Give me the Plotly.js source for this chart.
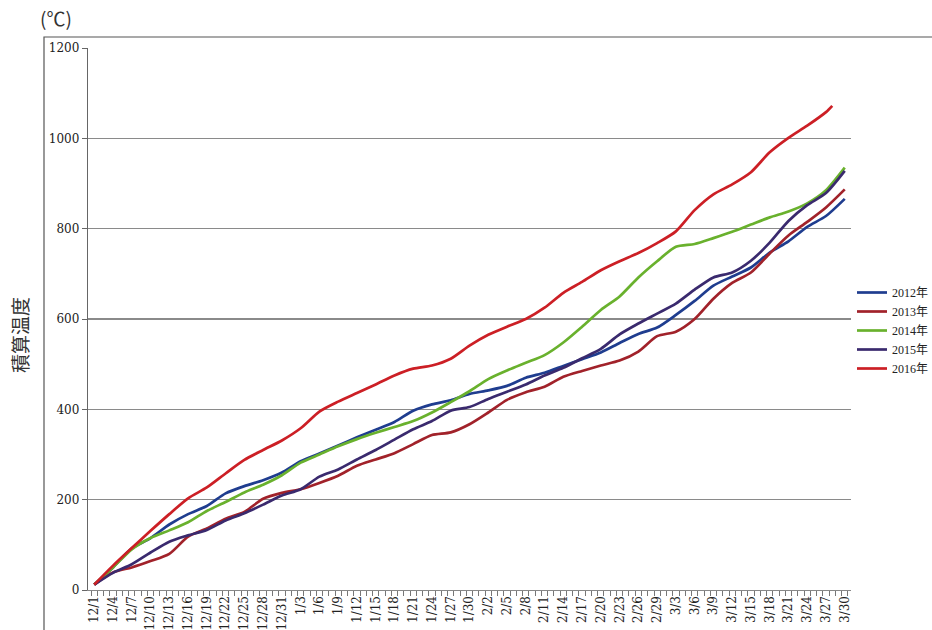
<!DOCTYPE html>
<html>
<head>
<meta charset="utf-8">
<script src="https://cdn.plot.ly/plotly-3.0.1.min.js"></script>
<style>
html,body{margin:0;padding:0;background:#fff;}
#chart{width:932px;height:630px;}
</style>
</head>
<body>
<div id="chart"></div>
<script>
// Category axis: every day from 12/1 to 3/30 (leap-year February)
const monthLengths = [[12, 31], [1, 31], [2, 29], [3, 30]];
const allDates = [];
monthLengths.forEach(function (m) { for (let d = 1; d <= m[1]; d++) allDates.push(m[0] + '/' + d); });

// Dates at which values were read (every 3 days)
const sampleDates = ['12/1','12/4','12/7','12/10','12/13','12/16','12/19','12/22','12/25','12/28','12/31',
  '1/3','1/6','1/9','1/12','1/15','1/18','1/21','1/24','1/27','1/30',
  '2/2','2/5','2/8','2/11','2/14','2/17','2/20','2/23','2/26','2/29',
  '3/3','3/6','3/9','3/12','3/15','3/18','3/21','3/24','3/27','3/30'];
const sampleDates2016 = sampleDates.slice(0, 40).concat(['3/28']);

const seriesNames = ['2012年', '2013年', '2014年', '2015年', '2016年'];

const v2012 = [12, 50, 92, 115, 145, 168, 186, 214, 230, 243, 260,
  285, 302, 320, 338, 355, 372, 397, 411, 420, 434,
  442, 452, 470, 481, 496, 511, 526, 547, 567, 581,
  609, 640, 674, 694, 714, 747, 772, 804, 828, 866];
const v2013 = [12, 39, 50, 64, 80, 118, 136, 158, 173, 202, 215,
  223, 237, 253, 275, 289, 303, 323, 343, 349, 367,
  393, 421, 438, 450, 472, 485, 497, 508, 528, 562,
  572, 600, 645, 680, 703, 745, 785, 815, 847, 887];
const v2014 = [12, 50, 90, 115, 132, 150, 175, 195, 216, 233, 254,
  282, 300, 318, 334, 348, 361, 374, 393, 416, 440,
  467, 486, 503, 520, 548, 583, 620, 650, 692, 728,
  760, 766, 779, 793, 809, 825, 838, 856, 885, 935];
const v2015 = [12, 38, 57, 83, 107, 121, 133, 154, 170, 189, 209,
  223, 251, 267, 289, 310, 333, 356, 374, 397, 405,
  423, 439, 455, 475, 492, 513, 534, 566, 590, 612,
  634, 665, 692, 703, 729, 769, 817, 852, 879, 928];
const v2016 = [12, 54, 93, 131, 168, 203, 227, 258, 288, 310, 331,
  358, 395, 417, 436, 455, 475, 490, 497, 512, 541,
  565, 583, 600, 625, 658, 682, 708, 728, 746, 768,
  794, 841, 876, 898, 925, 969, 1001, 1028, 1058, 1072];

const colors = ['#1f3d8f', '#a1222a', '#69b12d', '#3a2a6e', '#cc1f25'];
const xs = [sampleDates, sampleDates, sampleDates, sampleDates, sampleDates2016];
const ys = [v2012, v2013, v2014, v2015, v2016];

const traces = ys.map(function (y, i) {
  return {
    type: 'scatter', mode: 'lines', name: seriesNames[i],
    x: xs[i], y: y,
    line: {color: colors[i], width: 2.7, shape: 'spline', smoothing: 0.7}
  };
});

const tickText = allDates.map(function (d, i) { return i % 3 === 0 ? d : ''; });

// pixel helpers for paper coordinates (plot area 88..851 x 48..590)
const L = 88, R = 851, T = 48, B = 590;
function px(x) { return (x - L) / (R - L); }
function py(y) { return (B - y) / (B - T); }

const serif = '"DejaVu Serif", "Liberation Serif", serif';

const layout = {
  width: 932, height: 630,
  margin: {l: L, r: 932 - R, t: T, b: 630 - B, autoexpand: false},
  paper_bgcolor: '#ffffff', plot_bgcolor: '#ffffff',
  showlegend: true,
  legend: {
    x: px(852), y: py(278), xanchor: 'left', yanchor: 'top',
    font: {family: '"Liberation Serif", "Noto Sans CJK JP"', size: 12, color: '#222'},
    itemwidth: 30, tracegroupgap: 0, bgcolor: 'rgba(0,0,0,0)'
  },
  xaxis: {
    type: 'category', categoryorder: 'array', categoryarray: allDates,
    range: [-1, 121],
    tickmode: 'array', tickvals: allDates, ticktext: tickText,
    tickson: 'boundaries',
    ticks: 'outside', ticklen: 5, tickcolor: '#777', tickwidth: 1,
    tickangle: -90,
    tickfont: {family: serif, size: 12, color: '#222'},
    showgrid: false, showline: true, linecolor: '#888', linewidth: 1.2,
    zeroline: false, fixedrange: true
  },
  yaxis: {
    range: [0, 1200], tickmode: 'linear', tick0: 0, dtick: 200,
    ticks: 'outside', ticklen: 5, tickcolor: '#666',
    tickfont: {family: serif, size: 12, color: '#222'},
    showgrid: true, gridcolor: '#8a8a8a', gridwidth: 1.2,
    showline: true, linecolor: '#666', linewidth: 1.2,
    zeroline: false, fixedrange: true
  },
  shapes: [
    {type: 'path', xref: 'paper', yref: 'paper',
     path: 'M ' + px(44) + ' ' + py(640) + ' L ' + px(44) + ' ' + py(37) + ' L ' + px(940) + ' ' + py(37),
     line: {color: '#555', width: 1.2}}
  ],
  annotations: [
    {text: '(℃)', xref: 'paper', yref: 'paper', x: px(38), y: py(17),
     xanchor: 'left', yanchor: 'middle', showarrow: false,
     font: {family: 'Noto Sans CJK JP', size: 19, color: '#333'}},
    {text: '積算温度', xref: 'paper', yref: 'paper', x: px(19), y: py(335),
     xanchor: 'center', yanchor: 'middle', showarrow: false, textangle: -90,
     font: {family: 'Noto Sans CJK JP', size: 19, color: '#333'}}
  ]
};

Plotly.newPlot('chart', traces, layout, {displayModeBar: false, staticPlot: true});
</script>
</body>
</html>
